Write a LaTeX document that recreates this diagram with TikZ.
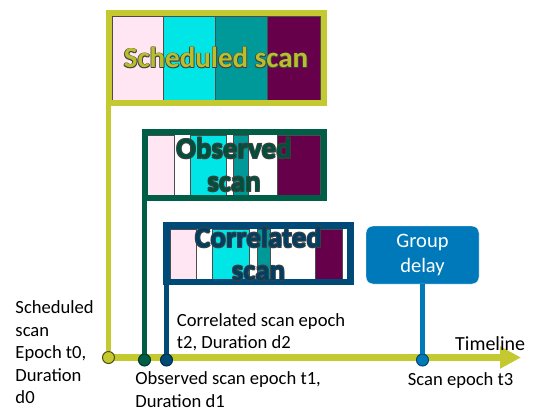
\documentclass[tikz,border=0pt]{standalone}
\usepackage{fontspec}
\setmainfont{Carlito}
\usetikzlibrary{arrows.meta,backgrounds}
\definecolor{limeg}{HTML}{C3C92E}
\definecolor{pinkst}{HTML}{FFE6F2}
\definecolor{cyanst}{HTML}{00E6E6}
\definecolor{tealst}{HTML}{009999}
\definecolor{plumst}{HTML}{66004A}
\definecolor{obsgreen}{HTML}{005E46}
\definecolor{corrnavy}{HTML}{004A77}
\definecolor{gdblue}{HTML}{0079BB}
\newcommand\glowtxt[1]{\leavevmode\rlap{\color{black!75}\kern0.8pt\raisebox{-0.8pt}{#1}}\rlap{\color{black!75}\kern-0.6pt\raisebox{0.6pt}{#1}}\rlap{\color{black!75}\kern0.8pt\raisebox{0.6pt}{#1}}\rlap{\color{black!75}\kern-0.6pt\raisebox{-0.8pt}{#1}}#1}

\begin{document}
\begin{tikzpicture}[x=1pt,y=-1pt,
  every node/.style={font=\fontsize{18.6}{22.5}\selectfont},
  scanbox/.style={draw,line width=6pt,inner sep=0pt,outer sep=0pt,align=center,font=\bfseries\fontsize{29}{33}\selectfont},
  stripe/.style={draw=black!70,line width=0.6pt},
  stem/.style={line width=5.5pt},
  dot/.style={circle,minimum size=12pt,inner sep=0pt,line width=1pt},
  lbl/.style={anchor=base west,inner sep=0pt,align=left},
  gdbox/.style={fill=gdblue,draw=white,rounded corners=7pt,minimum width=113pt,minimum height=58pt,text=white,align=center,inner sep=0pt,font=\fontsize{20.5}{25}\selectfont},
  timeline/.style={limeg,line width=7pt,-{Triangle[length=21pt,width=21pt]}}]
  \useasboundingbox (0,0) rectangle (533,412);
  \coordinate (tstart) at (108.5,357.5);
  \coordinate (tend) at (521,357.5);
  \draw[timeline] (tstart) -- (tend);
  \node[dot,fill=limeg,draw=limeg!40!black] (t0) at (108.5,357.5) {};
  \node[dot,fill=obsgreen,draw=obsgreen!60!black] (t1) at (144.5,360) {};
  \node[dot,fill=corrnavy,draw=corrnavy!60!black] (t2) at (166.5,360) {};
  \node[dot,fill=gdblue,draw=gdblue!60!black] (t3) at (422.5,360) {};
  \node[scanbox,draw=limeg,text=limeg!95!black,minimum width=215pt,minimum height=90pt] (sched) at (216,58) {\glowtxt{Scheduled scan}};
  \node[scanbox,draw=obsgreen,text=obsgreen!85!black,minimum width=179pt,minimum height=66pt] (obs) at (234,165) {\glowtxt{Observed}\\\glowtxt{scan}};
  \node[scanbox,draw=corrnavy,line width=6.5pt,text=corrnavy!85!black,minimum width=184pt,minimum height=56.5pt] (corr) at (258.5,253.75) {\glowtxt{Correlated}\\\glowtxt{scan}};
  \node[gdbox] (gd) at (422.5,255) {Group\\delay};
  \draw[stem,limeg] (sched.south west) -- (sched.south west |- t0.north);
  \draw[stem,obsgreen] (obs.south west) -- (obs.south west |- t1.north);
  \draw[stem,corrnavy] (corr.south west) -- (corr.south west |- t2.north);
  \draw[stem,gdblue] (gd.south) -- (t3.north);
  % base anchor sits on the last line
  \node[lbl] (schedlbl) at (15.3,403.5) {Scheduled\\scan\\Epoch t0,\\Duration\\d0};
  \node[lbl] (corrlbl) at (176.7,348.5) {Correlated scan epoch\\t2, Duration d2};
  \node[lbl] (obslbl) at (135.2,407) {Observed scan epoch t1,\\Duration d1};
  \node[lbl] (t3lbl) at (407.7,385) {Scan epoch t3};
  \node[lbl,font=\fontsize{20}{24}\selectfont] (tllbl) at (455,350.5) {Timeline};
  \begin{scope}[on background layer]
    % scheduled scan stripes
    \foreach \a/\b/\c in {112.7/163/pinkst,163/215.5/cyanst,215.5/267.5/tealst,267.5/320/plumst}
      \filldraw[stripe,fill=\c] (\a,16) rectangle (\b,100);
    % observed scan stripes
    \foreach \a/\b/\c in {147.3/174/pinkst,190.7/226.7/cyanst,233.3/248.3/tealst,277.7/320/plumst}
      \filldraw[stripe,fill=\c] (\a,135) rectangle (\b,195);
    % correlated scan stripes
    \foreach \a/\b/\c in {170/196.7/pinkst,212.3/249.3/cyanst,257.3/270.7/tealst,315.7/342.7/plumst}
      \filldraw[stripe,fill=\c] (\a,229) rectangle (\b,279.3);
  \end{scope}
\end{tikzpicture}
\end{document}
